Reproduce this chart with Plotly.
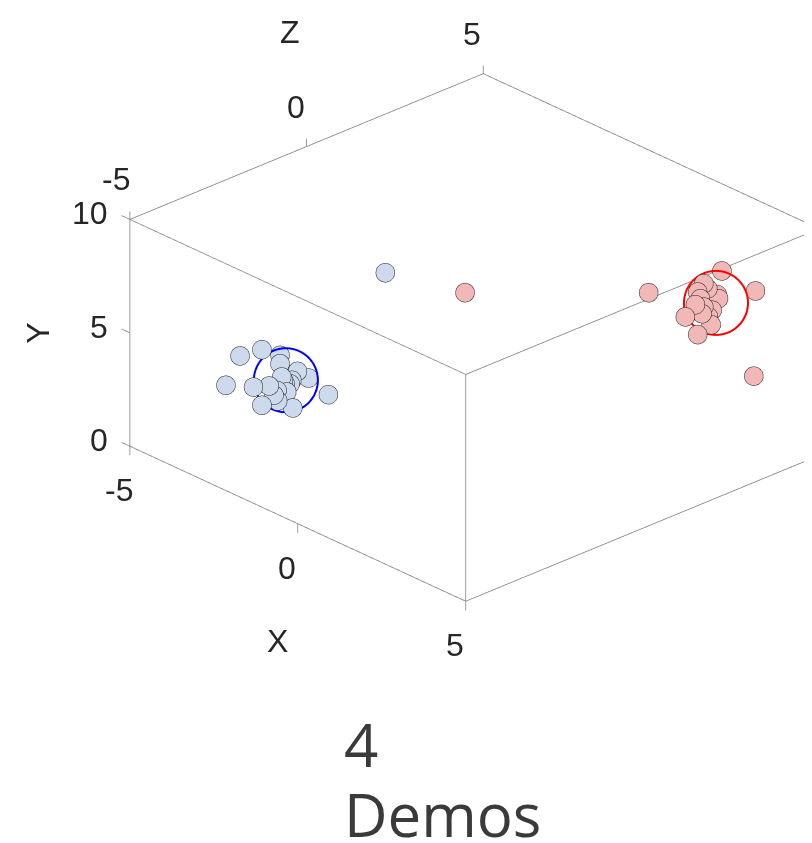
import math
import plotly.graph_objects as go

# ---------------- data ----------------
x_ticks = [-5, 0, 5]
y_ticks = [0, 5, 10]
z_ticks = [-5, 0, 5]
x_range = [-5, 5]
y_range = [0, 10]
z_range = [-5, 5]

blue_x = [-3.83, -3.18, -2.64, -2.64, -4.25, -3.43, -2.96, -2.59, -2.34, -2.12, -1.79,
          -2.44, -2.73, -3.18, -2.71, -2.26, -1.20, -2.54, -2.29, -2.82, -2.49, -1.61]
blue_y = [3.51, 4.23, 4.35, 3.98, 1.93, 2.41, 2.78, 3.43, 3.30, 4.00, 3.93,
          2.87, 2.74, 1.78, 2.29, 2.29, 3.60, 3.32, 3.49, 2.47, 3.20, 7.41]
blue_z = [-3, -3, -3, -3, -3, -3, -3, -3, -3, -3, -3,
          -3, -3, -3, -3, -3, -3, -3, -3, -3, -3, -1]

red_x = [0.97, 3.15, 4.15, 4.10, 2.43, 2.06, 2.83, 2.61, 2.43, 2.73, 3.01,
         2.36, 2.61, 2.56, 2.86, 2.75, 3.05, 2.51, -1.34]
red_y = [5.08, 7.53, 7.33, 3.54, 4.23, 4.76, 4.94, 6.60, 6.11, 6.46, 6.39,
         5.50, 5.57, 5.24, 5.60, 5.23, 6.24, 5.87, 5.43]
red_z = [4, 4, 4, 4, 4, 4, 4, 4, 4, 4, 4,
         4, 4, 4, 4, 4, 4, 4, 1]

blue_mean = [-2.46, 3.36, -3.0]
red_mean = [2.98, 5.99, 4.0]

title_num = "4"
title_word = "Demos"

# ---------------- view geometry ----------------
R = (0.6869, 0.0, 0.7267)
U = (-0.3171, 0.8998, 0.2997)
E = (-0.6539, -0.4363, 0.6181)
K = (0.020461, 0.039691, 0.020570)

EDGE = "rgb(125,125,125)"
TXT = "#262626"
FONT = "Liberation Sans, Arial, sans-serif"

x0, x1 = x_range
y0, y1 = y_range
z0, z1 = z_range

corners = [(a, b, c) for a in (x0, x1) for b in (y0, y1) for c in (z0, z1)]
front = (x0, y0, z1)
ex, ey, ez = [], [], []
for i in range(len(corners)):
    for j in range(i + 1, len(corners)):
        p, q = corners[i], corners[j]
        if sum(1 for k in range(3) if p[k] != q[k]) != 1:
            continue
        if p == front or q == front:
            continue
        ex += [p[0], q[0], None]
        ey += [p[1], q[1], None]
        ez += [p[2], q[2], None]

tx, ty, tz = [], [], []
for t in x_ticks:
    tx += [t, t, None]; ty += [y0, y0 - 0.4, None]; tz += [z0, z0, None]
for t in y_ticks:
    tx += [x0, x0 - 0.25, None]; ty += [t, t, None]; tz += [z0, z0, None]
for t in z_ticks:
    tx += [x0, x0, None]; ty += [y1, y1 + 0.35, None]; tz += [t, t, None]


def ring(c, rad_px, n=90):
    xs, ys, zs = [], [], []
    for k in range(n + 1):
        a = 2 * math.pi * k / n
        cr, sr = rad_px * math.cos(a), rad_px * math.sin(a)
        xs.append(c[0] + K[0] * (cr * R[0] + sr * U[0]))
        ys.append(c[1] + K[1] * (cr * R[1] + sr * U[1]))
        zs.append(c[2] + K[2] * (cr * R[2] + sr * U[2]))
    return xs, ys, zs


fig = go.Figure()
fig.add_trace(go.Scatter3d(x=ex, y=ey, z=ez, mode="lines",
                           line=dict(color=EDGE, width=1.5), hoverinfo="skip"))
fig.add_trace(go.Scatter3d(x=tx, y=ty, z=tz, mode="lines",
                           line=dict(color=EDGE, width=1.5), hoverinfo="skip"))

fig.add_trace(go.Scatter3d(x=blue_x, y=blue_y, z=blue_z, mode="markers",
                           marker=dict(size=11, color="#cdd9ec",
                                       line=dict(color="#1f1f1f", width=3))))
fig.add_trace(go.Scatter3d(x=red_x, y=red_y, z=red_z, mode="markers",
                           marker=dict(size=11, color="#f2b7b7",
                                       line=dict(color="#1f1f1f", width=3))))
bx, by, bz = ring(blue_mean, 32)
fig.add_trace(go.Scatter3d(x=bx, y=by, z=bz, mode="lines",
                           line=dict(color="#0000ff", width=4), hoverinfo="skip"))
rx, ry, rz = ring(red_mean, 32)
fig.add_trace(go.Scatter3d(x=rx, y=ry, z=rz, mode="lines",
                           line=dict(color="#ff0000", width=4), hoverinfo="skip"))

# camera (orthographic, y up)
r = 1.8
center = (-0.0294, -0.1965, -0.1698)
eye = tuple(center[i] + r * E[i] for i in range(3))

f = 1.16
pad = 0.4
aspect = dict(x=f * 1.0 * (10 + 2 * pad) / 10, y=f * 0.5155 * (10 + 2 * 0.5) / 10,
              z=f * 0.9947 * (10 + 2 * pad) / 10)

ann = []
fs = 32
for t in x_ticks:
    ann.append(dict(x=t, y=y0, z=z0, text=str(t), xshift=-11, yshift=-44))
ann.append(dict(x=(x0 + x1) / 2, y=y0, z=z0, text="X", xshift=-20, yshift=-117))
for t in y_ticks:
    ann.append(dict(x=x0, y=t, z=z0, text=str(t), xanchor="right", xshift=-20, yshift=6))
ann.append(dict(x=x0, y=(y0 + y1) / 2, z=z0, text="Y", textangle=-90, xshift=-92, yshift=0))
for t in z_ticks:
    ann.append(dict(x=x0, y=y1, z=t, text=str(t), xshift=-11 if t != -5 else -14, yshift=40))
ann.append(dict(x=x0, y=y1, z=(z0 + z1) / 2, text="Z", xshift=-17, yshift=115))
for a in ann:
    a.update(showarrow=False, font=dict(family=FONT, size=fs, color=TXT))

axis_common = dict(visible=False, showbackground=False, showgrid=False, zeroline=False,
                   showspikes=False)
fig.update_layout(
    width=812, height=843,
    margin=dict(l=0, r=0, t=0, b=0),
    paper_bgcolor="white",
    showlegend=False,
    scene=dict(
        domain=dict(x=[0, 1], y=[0, 1]),
        xaxis=dict(range=[x0 - pad, x1 + pad], **axis_common),
        yaxis=dict(range=[y0 - 0.5, y1 + 0.5], **axis_common),
        zaxis=dict(range=[z0 - pad, z1 + pad], **axis_common),
        aspectmode="manual",
        aspectratio=aspect,
        bgcolor="white",
        camera=dict(projection=dict(type="orthographic"),
                    up=dict(x=0, y=1, z=0),
                    center=dict(x=center[0], y=center[1], z=center[2]),
                    eye=dict(x=eye[0], y=eye[1], z=eye[2])),
        annotations=ann,
    ),
    annotations=[
        dict(x=334 / 812, y=1 - 736 / 843, xref="paper", yref="paper", xanchor="left",
             yanchor="middle", text=title_num, showarrow=False,
             font=dict(family="Open Sans, sans-serif", size=60, color="#3a3a3a")),
        dict(x=334 / 812, y=1 - 806 / 843, xref="paper", yref="paper", xanchor="left",
             yanchor="middle", text=title_word, showarrow=False,
             font=dict(family="Open Sans, sans-serif", size=60, color="#3a3a3a")),
    ],
)

fig.write_html("out.html")
